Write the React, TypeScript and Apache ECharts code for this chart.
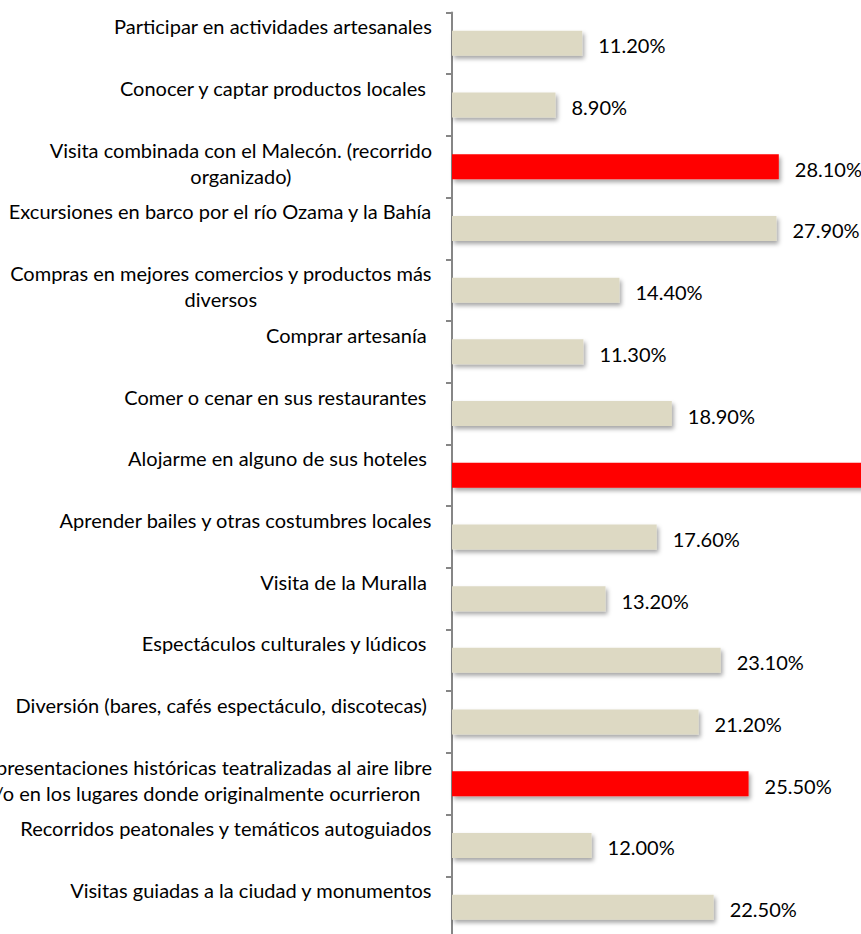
import React, { useEffect, useRef } from "react";
import * as echarts from "echarts";

const categories: string[] = [
  "Participar en actividades artesanales",
  "Conocer y captar productos locales\u00A0",
  "Visita combinada con el Malecón. (recorrido\norganizado)",
  "Excursiones en barco por el río Ozama y la Bahía",
  "Compras en mejores comercios y productos más\ndiversos",
  "Comprar artesanía\u00A0",
  "Comer o cenar en sus restaurantes\u00A0",
  "Alojarme en alguno de sus hoteles\u00A0",
  "Aprender bailes y otras costumbres locales",
  "Visita de la Muralla\u00A0",
  "Espectáculos culturales y lúdicos\u00A0",
  "Diversión (bares, cafés espectáculo, discotecas)\u00A0",
  "Representaciones históricas teatralizadas al aire libre\ny/o en los lugares donde originalmente ocurrieron",
  "Recorridos peatonales y temáticos autoguiados",
  "Visitas guiadas a la ciudad y monumentos",
];

const values: number[] = [11.2, 8.9, 28.1, 27.9, 14.4, 11.3, 18.9, 37.0, 17.6, 13.2, 23.1, 21.2, 25.5, 12.0, 22.5];

const highlighted: boolean[] = [false, false, true, false, false, false, false, true, false, false, false, false, true, false, false];

const BEIGE = "#DDD9C3";
const RED = "#FF0000";
const FONT = "Lato";

export default function App() {
  const ref = useRef<HTMLDivElement>(null);

  useEffect(() => {
    if (!ref.current) return;
    const chart = echarts.init(ref.current, undefined, { renderer: "svg" });
    chart.setOption({
      animation: false,
      backgroundColor: "#ffffff",
      grid: { left: 602, top: 12.5, width: 465.2, height: 925.5, containLabel: false },
      xAxis: {
        type: "value",
        min: 0,
        max: 40,
        show: false,
        splitLine: { show: false },
      },
      yAxis: {
        type: "category",
        inverse: true,
        data: categories,
        axisLine: { show: true, lineStyle: { color: "#868686", width: 2 } },
        axisTick: { show: true, length: 6, lineStyle: { color: "#868686", width: 2 } },
        splitLine: { show: false },
        axisLabel: {
          margin: 20,
          padding: [0, 0, 8, 0],
          interval: 0,
          fontFamily: FONT,
          fontSize: 20,
          color: "#000",
          formatter: (v: string) => {
            const lines = v.split("\n");
            if (lines.length === 1) lines.push("\u00A0");
            return lines.map((l) => `{c|${l}}`).join("\n");
          },
          rich: {
            c: { fontFamily: FONT, fontSize: 20, lineHeight: 26, color: "#000", align: "center" },
          },
        },
      },
      series: [
        {
          type: "bar",
          barWidth: 25,
          data: values.map((v, i) => ({
            value: v,
            itemStyle: {
              color: highlighted[i] ? RED : BEIGE,
              shadowColor: "rgba(0,0,0,0.35)",
              shadowBlur: 4,
              shadowOffsetX: 2,
              shadowOffsetY: 3,
            },
          })),
          label: {
            show: true,
            position: "right",
            distance: 16,
            offset: [0, 2],
            fontFamily: FONT,
            fontSize: 20,
            color: "#000",
            formatter: (p: any) => `${Number(p.value).toFixed(2)}%`,
          },
        },
      ],
    });
    return () => chart.dispose();
  }, []);

  return (
    <div style={{ position: "fixed", left: 0, top: 0, width: 861, height: 934, overflow: "hidden", background: "#fff" }}>
      <div ref={ref} style={{ position: "absolute", left: -150, top: 0, width: 1300, height: 980 }} />
    </div>
  );
}
